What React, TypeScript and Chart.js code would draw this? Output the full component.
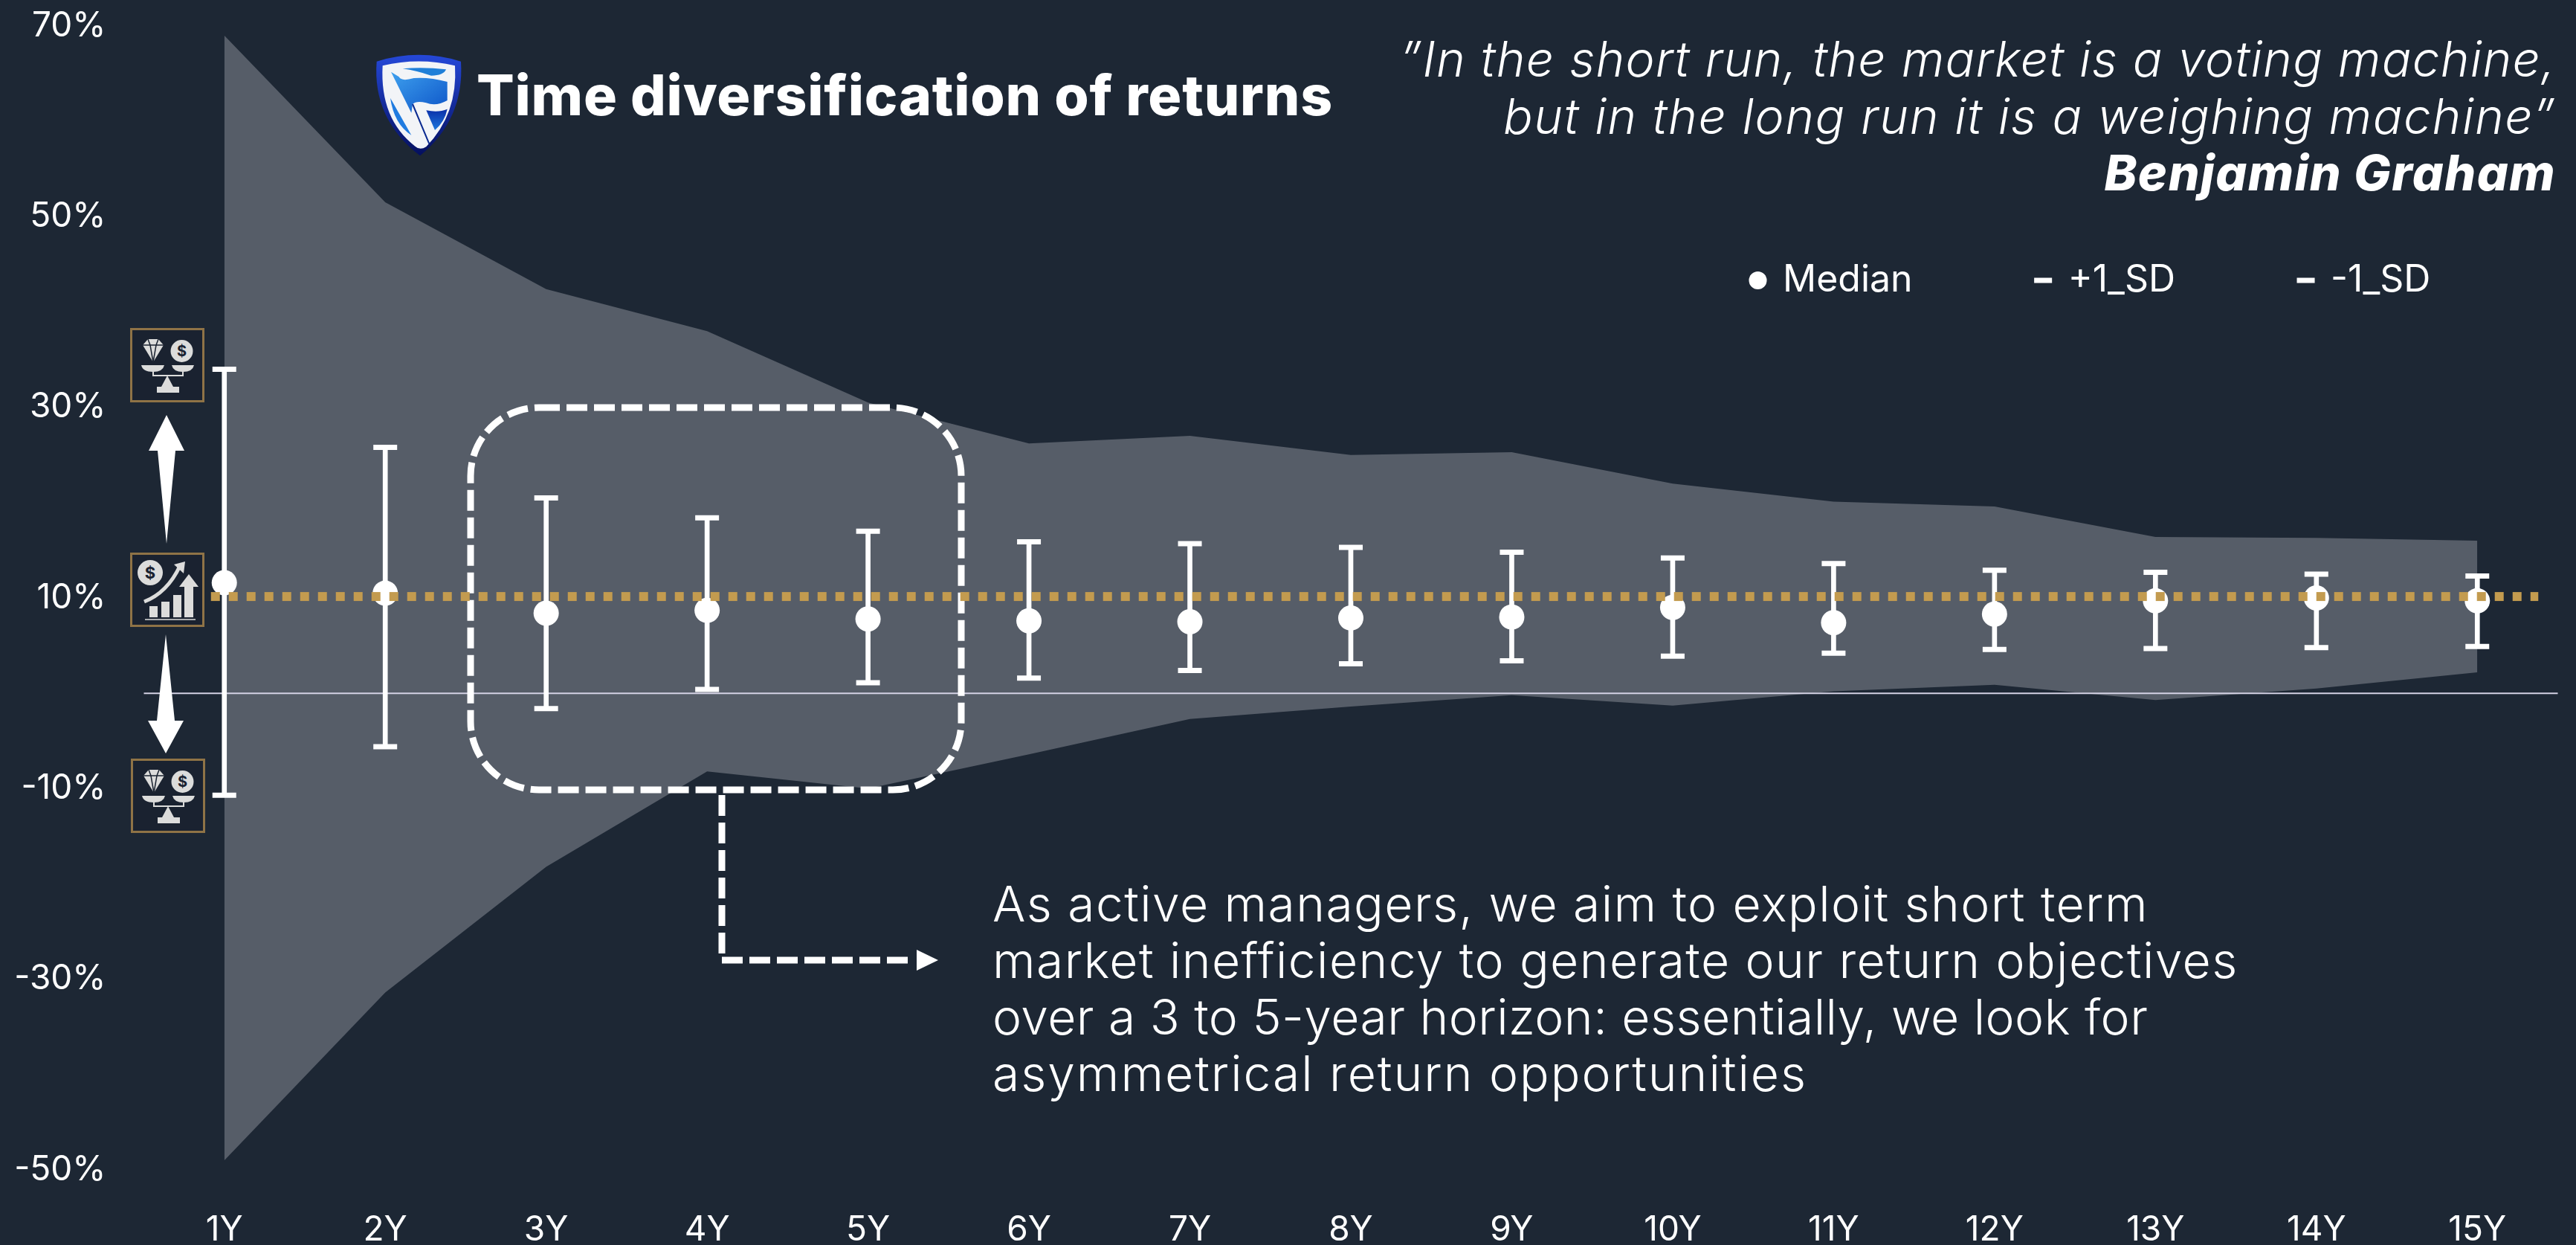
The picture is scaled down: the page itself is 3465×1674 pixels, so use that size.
import React, { useEffect, useRef } from "react";
import { Chart, registerables } from "chart.js";

Chart.register(...registerables);

const categories = ["1Y","2Y","3Y","4Y","5Y","6Y","7Y","8Y","9Y","10Y","11Y","12Y","13Y","14Y","15Y"];
const bandUpper = [69.0,51.5,42.4,38.0,30.5,26.2,27.0,25.0,25.3,22.0,20.1,19.6,16.4,16.3,16.0];
const bandLower = [-49.0,-31.4,-18.2,-8.2,-10.0,-6.4,-2.7,-1.4,-0.2,-1.3,0.2,0.9,-0.7,0.5,2.2];
const median = [11.6,10.5,8.4,8.7,7.8,7.6,7.5,7.9,8.0,9.0,7.4,8.3,9.7,10.0,9.7];
const plusSD = [34.0,25.8,20.5,18.4,17.0,15.9,15.7,15.3,14.8,14.2,13.6,12.9,12.7,12.5,12.3];
const minusSD = [-10.7,-5.6,-1.6,0.4,1.1,1.6,2.4,3.1,3.4,3.9,4.2,4.6,4.7,4.8,4.9];
const targetReturn = 10.15;
const yMin = -50, yMax = 70, yStep = 20;

const FONT = "Inter, 'Open Sans', sans-serif";
const BG = "#1d2734", BAND = "#565d68", GOLD = "#c39b4f", WHITE = "#ffffff", ZERO = "#d4d2e4";
const GLYPH = "#dcdcdb", FRAME = "#8f7346", INNER = "#1a2230";

const layerPlugin = {
  id: "layers",
  beforeInit(chart: any) {
    chart.ctx.letterSpacing = "3px";
  },
  beforeLayout(chart: any) {
    const lg = chart.legend;
    if (lg && !lg.__patched) {
      const fit = lg.fit.bind(lg);
      lg.fit = () => { fit(); lg.height = 0; };
      lg.__patched = true;
    }
  },
  afterLayout(chart: any) {
    const lg = chart.legend;
    const pad = lg.options.labels.padding;
    lg.left = 2356 - pad; lg.right = 3460; lg.top = 185; lg.bottom = 480;
  },
  beforeDraw(chart: any) {
    const { ctx, width, height } = chart;
    ctx.save(); ctx.fillStyle = BG; ctx.fillRect(0, 0, width, height); ctx.restore();
  },
  afterDatasetDraw(chart: any, args: any) {
    if (args.index !== 0) return;
    const { ctx, chartArea } = chart;
    const y0 = chart.scales.y.getPixelForValue(0);
    ctx.save();
    ctx.strokeStyle = ZERO; ctx.lineWidth = 2;
    ctx.beginPath(); ctx.moveTo(chartArea.left, y0); ctx.lineTo(chartArea.right, y0); ctx.stroke();
    ctx.restore();
  },
  afterDatasetsDraw(chart: any) {
    const { ctx } = chart;
    const sx = chart.scales.x, sy = chart.scales.y;
    ctx.save();
    // dashed call-out round the 3 to 5-year horizon
    ctx.strokeStyle = WHITE; ctx.fillStyle = WHITE; ctx.lineWidth = 9;
    ctx.setLineDash([28, 9]);
    ctx.beginPath(); ctx.roundRect(633, 548, 660, 514, 92); ctx.stroke();
    ctx.beginPath(); ctx.moveTo(971, 1069); ctx.lineTo(971, 1291); ctx.lineTo(1228, 1291); ctx.stroke();
    ctx.setLineDash([]);
    ctx.beginPath(); ctx.moveTo(1233, 1277); ctx.lineTo(1262, 1291); ctx.lineTo(1233, 1305); ctx.closePath(); ctx.fill();
    // return objective line
    const y = sy.getPixelForValue(targetReturn);
    ctx.strokeStyle = GOLD; ctx.lineWidth = 12; ctx.setLineDash([12, 12]);
    ctx.beginPath();
    ctx.moveTo(sx.getPixelForValue(0) - 18, y);
    ctx.lineTo(sx.getPixelForValue(categories.length - 1) + 82, y);
    ctx.stroke();
    ctx.restore();
  },
};

function ScaleIcon({ x, y }: { x: number; y: number }) {
  return (
    <svg style={{ position: "absolute", left: x, top: y }} width={100} height={100} viewBox="0 0 100 100">
      <rect x={1.5} y={1.5} width={97} height={97} fill={INNER} stroke={FRAME} strokeWidth={3} />
      <path d="M17 23 L24 15 L38 15 L45 23 L31 46 Z" fill={GLYPH} />
      <path d="M17 23 H45 M24 15 L27 23 L31 46 M38 15 L35 23 L31 46" stroke={INNER} strokeWidth={1.5} fill="none" />
      <circle cx={69.5} cy={31} r={15} fill={GLYPH} />
      <text x={69.5} y={38} textAnchor="middle" fontSize={20} fontWeight={700} fontFamily={FONT} fill={INNER}>$</text>
      <path d="M15 50 H46 Q44 59 31 59 Q17 59 15 50 Z M56 50 H86 Q84 59 71 59 Q58 59 56 50 Z" fill={GLYPH} />
      <path d="M31 59 V64 H71 V59" stroke={GLYPH} strokeWidth={2} fill="none" />
      <path d="M50 64 L42 79 H36 V87 H66 V79 H58 Z" fill={GLYPH} />
    </svg>
  );
}

function GrowthIcon({ x, y }: { x: number; y: number }) {
  return (
    <svg style={{ position: "absolute", left: x, top: y }} width={100} height={100} viewBox="0 0 100 100">
      <rect x={1.5} y={1.5} width={97} height={97} fill={INNER} stroke={FRAME} strokeWidth={3} />
      <circle cx={27} cy={27} r={17} fill={GLYPH} />
      <text x={27} y={35} textAnchor="middle" fontSize={22} fontWeight={700} fontFamily={FONT} fill={INNER}>$</text>
      <path d="M19 66 Q50 54 67 18" stroke={GLYPH} strokeWidth={5} fill="none" />
      <path d="M59 16 L74 12 L72 28 Z" fill={GLYPH} />
      <rect x={26} y={72} width={11} height={15} fill={GLYPH} />
      <rect x={42} y={66} width={11} height={21} fill={GLYPH} />
      <rect x={58} y={57} width={11} height={30} fill={GLYPH} />
      <path d="M73 87 V46 H66 L79 29 L92 46 H85 V87 Z" fill={GLYPH} />
      <path d="M20 90 H88" stroke={GLYPH} strokeWidth={1.5} />
    </svg>
  );
}

function Logo() {
  return (
    <svg style={{ position: "absolute", left: 490, top: 60 }} width={150} height={160} viewBox="0 0 450 480">
      <defs>
        <linearGradient id="sb" x1="0" y1="0" x2="0" y2="1">
          <stop offset="0" stopColor="#2548d8" />
          <stop offset="1" stopColor="#040f5e" />
        </linearGradient>
        <linearGradient id="sb2" x1="0" y1="0" x2="1" y2="1">
          <stop offset="0" stopColor="#3ea0ee" />
          <stop offset="1" stopColor="#0d55c8" />
        </linearGradient>
        <linearGradient id="sb3" x1="0" y1="0" x2="0" y2="1">
          <stop offset="0" stopColor="#0a2ea8" />
          <stop offset="1" stopColor="#1f78dc" />
        </linearGradient>
      </defs>
      <path d="M50 68 Q220 15 390 68 Q405 300 225 448 Q32 300 50 68 Z" fill="url(#sb)" />
      <path d="M74 85 Q220 50 366 85 Q378 280 250 412 Q225 428 205 410 Q62 300 74 85 Z" fill="#f2f4f7" />
      <path d="M108 110 L140 130 Q150 150 200 135 Q260 130 335 150 L335 225 Q290 250 250 235 Q210 225 195 240 L190 275 Z" fill="url(#sb2)" />
      <path d="M105 215 L190 365 Q120 320 105 215 Z" fill="#1f7be0" />
      <path d="M250 265 Q300 275 335 260 Q325 310 285 345 Z" fill="url(#sb3)" />
      <path d="M155 97 Q240 90 330 100 Q320 125 270 125 Q210 105 155 97 Z" fill="#1f7fd8" />
      <path d="M195 240 L262 400" stroke="#0a2a90" strokeWidth={6} fill="none" />
    </svg>
  );
}

const textBase: React.CSSProperties = { position: "absolute", color: WHITE, fontFamily: FONT, whiteSpace: "nowrap" };

export default function App() {
  const ref = useRef<HTMLCanvasElement>(null);
  useEffect(() => {
    const chart = new Chart(ref.current!, {
      data: {
        labels: categories,
        datasets: [
          { type: "line", label: "Upper band", data: bandUpper, borderWidth: 0, pointRadius: 0, fill: "+1", backgroundColor: BAND, order: 5, tension: 0 },
          { type: "line", label: "Lower band", data: bandLower, borderWidth: 0, pointRadius: 0, fill: false, order: 6, tension: 0 },
          { type: "bar", label: "Range", data: categories.map((_, i) => [minusSD[i], plusSD[i]]), backgroundColor: WHITE, barThickness: 6, order: 3 },
          { type: "line", label: "Median", data: median, showLine: false, pointStyle: "circle", pointRadius: 17, pointBackgroundColor: WHITE, pointBorderColor: WHITE, pointBorderWidth: 0, backgroundColor: WHITE, borderColor: WHITE, order: 0 },
          { type: "line", label: "+1_SD", data: plusSD, showLine: false, pointStyle: "line", pointRadius: 16, pointBorderColor: WHITE, pointBorderWidth: 7, borderColor: WHITE, backgroundColor: WHITE, order: 1 },
          { type: "line", label: "-1_SD", data: minusSD, showLine: false, pointStyle: "line", pointRadius: 16, pointBorderColor: WHITE, pointBorderWidth: 7, borderColor: WHITE, backgroundColor: WHITE, order: 2 },
        ],
      } as any,
      options: {
        responsive: false,
        animation: false,
        layout: { padding: { left: 0, right: 24.5, top: 35, bottom: 0 } },
        plugins: {
          legend: {
            position: "top",
            align: "start",
            labels: {
              color: WHITE,
              font: { family: FONT, size: 50 },
              usePointStyle: true,
              boxWidth: 17,
              boxHeight: 17,
              padding: 167,
              filter: (item: any) => ["Median", "+1_SD", "-1_SD"].includes(item.text),
            },
          },
          tooltip: { enabled: false },
          title: { display: false },
        },
        scales: {
          x: {
            type: "category",
            offset: true,
            grid: { display: false },
            border: { display: false },
            ticks: { color: WHITE, font: { family: FONT, size: 46 }, padding: 46, maxRotation: 0, autoSkip: false },
            afterFit: (s: any) => { s.height = 101; s.paddingLeft = 0; s.paddingRight = 0; },
          },
          y: {
            type: "linear",
            min: yMin,
            max: yMax,
            grid: { display: false },
            border: { display: false },
            ticks: { color: WHITE, font: { family: FONT, size: 46 }, padding: 43, stepSize: yStep, callback: (v: any) => `${v}%` },
            afterFit: (s: any) => { s.width = 193.5; s.paddingTop = 0; s.paddingBottom = 0; },
          },
        },
      } as any,
      plugins: [layerPlugin],
    } as any);
    return () => chart.destroy();
  }, []);

  return (
    <div style={{ position: "fixed", left: 0, top: 0, width: 3465, height: 1674, background: BG, overflow: "hidden" }}>
      <canvas ref={ref} width={3465} height={1674} style={{ position: "absolute", left: 0, top: 0, display: "block" }} />

      <Logo />
      <div style={{ ...textBase, left: 641, top: 82, fontSize: 75, lineHeight: "92px", fontWeight: 800, letterSpacing: 0.8 }}>
        Time diversification of returns
      </div>

      <div style={{ ...textBase, right: 27, top: 41, fontSize: 66, lineHeight: "76.5px", textAlign: "right", fontStyle: "italic", fontWeight: 350 }}>
        <div style={{ letterSpacing: 1.2 }}>”In the short run, the market is a voting machine,</div>
        <div style={{ letterSpacing: 1.55 }}>but in the long run it is a weighing machine”</div>
        <div style={{ fontWeight: 800, letterSpacing: 1.5 }}>Benjamin Graham</div>
      </div>

      <div style={{ ...textBase, left: 1335, top: 1177, fontSize: 66, lineHeight: "76px", fontWeight: 350 }}>
        <div style={{ letterSpacing: 1.4 }}>As active managers, we aim to exploit short term</div>
        <div style={{ letterSpacing: 1.4 }}>market inefficiency to generate our return objectives</div>
        <div style={{ letterSpacing: 0.45 }}>over a 3 to 5-year horizon: essentially, we look for</div>
        <div style={{ letterSpacing: 1.95 }}>asymmetrical return opportunities</div>
      </div>

      <ScaleIcon x={175} y={441} />
      <GrowthIcon x={175} y={743} />
      <ScaleIcon x={176} y={1020} />
      <svg style={{ position: "absolute", left: 0, top: 0 }} width={400} height={1200}>
        <path d="M224 558 L248 606 L236 606 L224 731 L212 606 L200 606 Z" fill={WHITE} />
        <path d="M223 1013 L247 969 L235 969 L223 853 L211 969 L199 969 Z" fill={WHITE} />
      </svg>
    </div>
  );
}
